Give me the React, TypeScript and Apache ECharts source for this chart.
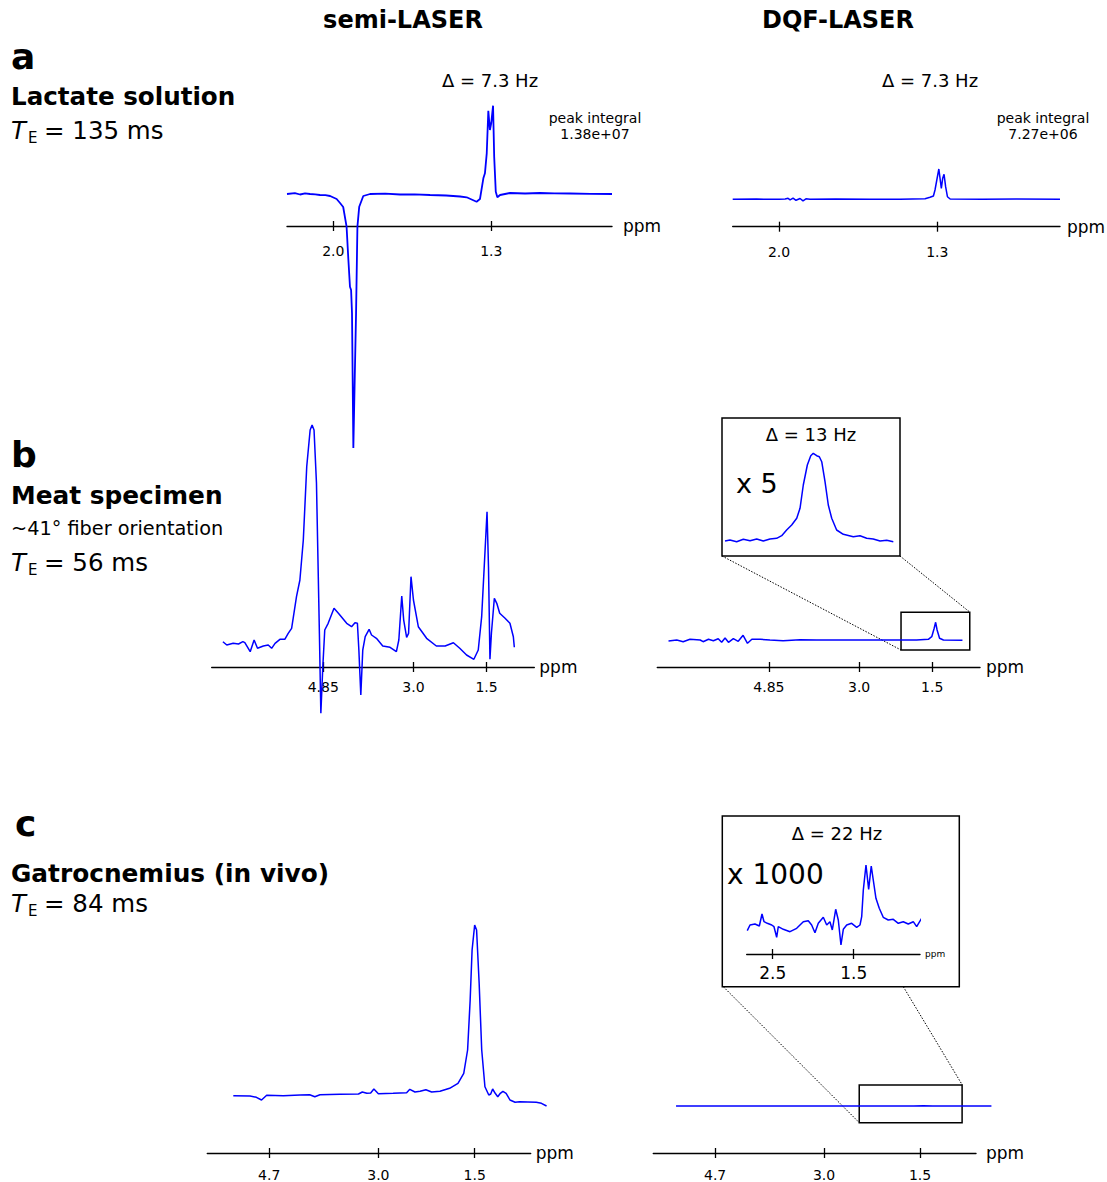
import React, { useEffect, useRef } from 'react';
import * as echarts from 'echarts';

const BLUE = '#0000ff';
const FONT = 'DejaVu Sans';

// ---------- data (ppm, intensity in arbitrary units) ----------
// a: lactate solution, semi-LASER
const aSemi = [
  [2.205, 0], [2.17, 0.8], [2.147, -0.5], [2.125, 0.6], [2.103, 0], [2.08, -0.4], [2.059, -1], [2.035, -1.2],
  [2.014, -2], [1.985, -5], [1.97, -9], [1.956, -13], [1.941, -32.7], [1.933, -66], [1.926, -92.7], [1.921, -96],
  [1.917, -119], [1.911, -254], [1.905, -186], [1.899, -119], [1.893, -32.7], [1.885, -12.7], [1.867, -2], [1.837, 0],
  [1.77, 0.3], [1.704, -0.5], [1.64, -0.3], [1.571, -1], [1.5, -1.5], [1.438, -2.5], [1.409, -3.3], [1.365, -7.7],
  [1.35, -5], [1.335, 15.7], [1.328, 20.7], [1.32, 40.7], [1.313, 83.3], [1.306, 64], [1.3, 71], [1.292, 88.3],
  [1.287, 37.3], [1.28, 2.3], [1.273, -3.3], [1.261, -1], [1.217, 1], [1.15, 0.5], [1.084, 1], [1.02, 0.6],
  [0.951, 0.5], [0.86, 0.2], [0.765, 0],
];
// a: lactate solution, DQF-LASER
const aDqf = [
  [2.205, 0], [2.1, 0.2], [2.0, 0], [1.973, 0.3], [1.96, 1], [1.951, -0.5], [1.938, 1.2], [1.925, -1],
  [1.907, 0.8], [1.894, -1.5], [1.881, 0.5], [1.863, 0], [1.75, 0.2], [1.6, 0], [1.465, 0], [1.354, 0.5],
  [1.332, 2], [1.317, 3.3], [1.31, 9.3], [1.302, 19.3], [1.293, 30.3], [1.282, 11], [1.276, 21], [1.27, 25],
  [1.263, 12.6], [1.255, 2.6], [1.243, 0.3], [1.1, 0], [0.95, 0.2], [0.757, 0],
];
// b: meat specimen, semi-LASER
const bSemi = [
  [6.91, 25.3], [6.83, 22], [6.7, 23.7], [6.59, 23], [6.5, 25.3], [6.46, 24.3], [6.35, 15.3], [6.27, 27],
  [6.2, 18.7], [6.08, 21], [5.98, 22], [5.91, 18.7], [5.84, 23.7], [5.74, 27.7], [5.64, 27.7], [5.57, 33.7],
  [5.5, 38.7], [5.4, 70.3], [5.33, 87], [5.26, 127], [5.19, 200.3], [5.12, 237], [5.08, 242], [5.04, 237],
  [4.99, 183.7], [4.93, 33.7], [4.9, -46.3], [4.86, 0.3], [4.82, 37], [4.75, 43.7], [4.63, 58.7], [4.54, 53.7],
  [4.37, 43.7], [4.27, 40.3], [4.2, 44.3], [4.15, 43.7], [4.12, 17], [4.08, -28], [4.04, 17], [3.99, 30.3],
  [3.91, 37.7], [3.86, 32], [3.76, 28.7], [3.63, 21], [3.48, 19.7], [3.35, 15.3], [3.3, 27], [3.24, 71],
  [3.2, 47], [3.14, 29.7], [3.1, 33.7], [3.05, 90.3], [3.0, 67], [2.9, 40.3], [2.73, 28.7], [2.53, 21],
  [2.35, 21], [2.18, 24.3], [2.05, 18.7], [1.91, 12], [1.76, 7.7], [1.67, 17], [1.6, 50.3], [1.53, 117],
  [1.49, 155.3], [1.46, 100.3], [1.43, 7.7], [1.4, 33.7], [1.34, 68.7], [1.29, 63.7], [1.23, 53.7], [1.12, 48.7],
  [1.02, 43.7], [0.95, 30.3], [0.93, 19.7],
];
// b: meat specimen, DQF-LASER
const bDqf = [
  [6.91, 26], [6.74, 27], [6.61, 25.3], [6.47, 27.7], [6.26, 27], [6.2, 25.3], [6.09, 27.7], [5.99, 26.3],
  [5.89, 28.3], [5.82, 24.7], [5.75, 29], [5.68, 24.7], [5.58, 28.3], [5.48, 25.7], [5.38, 31.7], [5.29, 23.7],
  [5.2, 27.7], [5.03, 27.7], [4.83, 27], [4.56, 26.3], [4.21, 27.3], [3.87, 27], [3.19, 27], [2.5, 27],
  [1.82, 27], [1.58, 27.7], [1.51, 30.3], [1.46, 38.7], [1.43, 44.7], [1.4, 37], [1.35, 28.7], [1.27, 27],
  [0.88, 26.7],
];
// b: DQF-LASER inset (x 5)
const bInset = [
  [2.116, 15], [2.077, 16], [2.024, 14.3], [1.971, 16.7], [1.918, 15.3], [1.865, 17], [1.813, 15], [1.76, 17],
  [1.707, 17.7], [1.667, 20.3], [1.628, 26], [1.588, 31], [1.548, 37.7], [1.522, 47.7], [1.496, 71], [1.464, 91],
  [1.437, 100.3], [1.417, 102.7], [1.39, 100.3], [1.369, 99.3], [1.35, 94.3], [1.324, 74.3], [1.298, 51], [1.271, 37.7],
  [1.232, 26], [1.179, 21.7], [1.1, 19.3], [1.047, 20.3], [0.994, 17.7], [0.942, 17], [0.888, 15], [0.835, 15.7],
  [0.783, 14.3],
];
// c: gastrocnemius in vivo, semi-LASER
const cSemi = [
  [5.26, -0.7], [5.0, -1], [4.9, -2.3], [4.82, -5], [4.74, -0.3], [4.48, -0.7], [4.22, 0], [4.07, 0.3],
  [3.99, -1.7], [3.91, 0.3], [3.6, 0.7], [3.31, 1], [3.25, 3], [3.18, 1.7], [3.12, 2], [3.07, 6],
  [3.0, 1.3], [2.77, 1.7], [2.56, 2.3], [2.51, 5.7], [2.43, 3], [2.35, 3.7], [2.26, 5.3], [2.17, 3],
  [2.04, 3.7], [1.89, 6.7], [1.76, 11.7], [1.67, 21.7], [1.61, 45], [1.57, 95], [1.54, 145], [1.5, 170],
  [1.47, 165], [1.43, 111.7], [1.39, 45], [1.34, 8.3], [1.28, 0], [1.25, 1], [1.22, 6], [1.18, 1.7],
  [1.14, -1.7], [1.1, 1.7], [1.06, 3.7], [1.01, 1.7], [0.95, -5], [0.87, -7.3], [0.8, -6.7], [0.54, -7.3],
  [0.46, -8.3], [0.38, -11],
];
// c: gastrocnemius in vivo, DQF-LASER
const cDqf = [
  [5.31, 0], [4.5, 0], [3.5, 0], [2.5, 0], [1.6, 0], [1.45, 0.3], [1.3, 0], [0.9, 0], [0.386, 0],
];
// c: DQF-LASER inset (x 1000)
const cInset = [
  [2.814, 23.3], [2.78, 29], [2.719, 30], [2.665, 28], [2.632, 40], [2.607, 32.3], [2.567, 30.7], [2.512, 29],
  [2.484, 27.3], [2.451, 16.7], [2.431, 27.3], [2.369, 24.7], [2.286, 22.3], [2.204, 25.7], [2.122, 32.3], [2.061, 33.3],
  [2.019, 29], [1.978, 21.3], [1.937, 30.7], [1.875, 36.7], [1.833, 29], [1.793, 32.3], [1.764, 24], [1.722, 44.7],
  [1.69, 34], [1.657, 9], [1.628, 24.7], [1.586, 29], [1.525, 30.7], [1.463, 26.7], [1.422, 29], [1.401, 37.3],
  [1.381, 64], [1.348, 89], [1.315, 64.7], [1.283, 88], [1.258, 74], [1.225, 55.7], [1.184, 45.7], [1.135, 36.7],
  [1.073, 34], [1.011, 34.7], [0.949, 30.7], [0.888, 32.3], [0.826, 30], [0.764, 32.3], [0.722, 27.3], [0.661, 35.7],
  [0.607, 35.7], [0.549, 34.7],
];

// tick values / labels
const ticksA = [2.0, 1.3];
const labelsA = ['2.0', '1.3'];
const ticksB = [4.85, 3.0, 1.5];
const labelsB = ['4.85', '3.0', '1.5'];
const ticksC = [4.7, 3.0, 1.5];
const labelsC = ['4.7', '3.0', '1.5'];
const ticksCInset = [2.5, 1.5];
const labelsCInset = ['2.5', '1.5'];

// zoom boxes [ppmFrom, intensityFrom, ppmTo, intensityTo]
const boxB = [2.14, 17, 0.73, 54.7];
const boxC = [2.45, 21, 0.844, -16.7];

type Panel = {
  grid: { left: number; top: number; width: number; height: number };
  x: [number, number];
  xDataMin?: number; // lower ppm limit of the drawn trace (may overhang the axis)
  y: [number, number];
  ticks?: number[];
  labels?: string[];
  labelMargin?: number;
  labelSize?: number;
  nameGap?: number;
  nameSize?: number;
  namePad?: number;
  data: number[][];
  lw: number;
  box?: number[];
};

const panels: Panel[] = [
  { grid: { left: 287, top: 100, width: 325, height: 126 }, x: [0.765, 2.205], y: [-32, 94], ticks: ticksA, labels: labelsA, labelMargin: 18, labelSize: 14, nameGap: 11, nameSize: 17, namePad: 4, data: aSemi, lw: 1.8 },
  { grid: { left: 732.7, top: 100, width: 327.3, height: 126.7 }, x: [0.757, 2.205], y: [-27.4, 99.3], ticks: ticksA, labels: labelsA, labelMargin: 18, labelSize: 14, nameGap: 7, nameSize: 17, namePad: 4, data: aDqf, lw: 1.5 },
  { grid: { left: 211.7, top: 420, width: 322.6, height: 247 }, x: [0.52, 7.14], y: [0, 247], ticks: ticksB, labels: labelsB, labelMargin: 13, labelSize: 14, nameGap: 5, nameSize: 17, namePad: 7, data: bSemi, lw: 1.5 },
  { grid: { left: 657.3, top: 420, width: 322.7, height: 247 }, x: [0.52, 7.14], y: [0, 247], ticks: ticksB, labels: labelsB, labelMargin: 13, labelSize: 14, nameGap: 6, nameSize: 17, namePad: 7, data: bDqf, lw: 1.5, box: boxB },
  { grid: { left: 722, top: 418, width: 178, height: 138 }, x: [0.73, 2.14], y: [0, 138], data: bInset, lw: 1.5 },
  { grid: { left: 207.3, top: 900, width: 323.4, height: 257.5 }, x: [0.627, 5.665], xDataMin: 0.36, y: [-62.5, 195], ticks: ticksC, labels: labelsC, labelMargin: 15, labelSize: 14, nameGap: 5, nameSize: 17, namePad: 7, data: cSemi, lw: 1.5 },
  { grid: { left: 653.3, top: 900, width: 322.7, height: 257.7 }, x: [0.627, 5.665], xDataMin: 0.36, y: [-51.7, 206], ticks: ticksC, labels: labelsC, labelMargin: 15, labelSize: 14, nameGap: 10, nameSize: 17, namePad: 7, data: cDqf, lw: 1.5, box: boxC },
  { grid: { left: 746.7, top: 860, width: 173.3, height: 94 }, x: [0.681, 2.821], y: [0, 94], ticks: ticksCInset, labels: labelsCInset, labelMargin: 10, labelSize: 17, nameGap: 5, nameSize: 9, namePad: 4, data: cInset, lw: 1.5 },
];

function txt(text: string, x: number, y: number, size: number, opts: any = {}) {
  return {
    type: 'text',
    x,
    y,
    silent: true,
    z: 10,
    style: {
      text,
      fontFamily: FONT,
      fontSize: size,
      fontWeight: opts.bold ? 'bold' : 'normal',
      fontStyle: opts.italic ? 'italic' : 'normal',
      fill: '#000',
      align: opts.align || 'left',
      verticalAlign: 'middle',
    },
  };
}

function teLabel(value: string, y: number) {
  return [
    txt('T', 11, y, 24.5, { italic: true }),
    txt('E', 28, y + 8, 15),
    txt('= ' + value, 44, y, 24.5),
  ];
}

function dotted(x1: number, y1: number, x2: number, y2: number) {
  return {
    type: 'line',
    silent: true,
    shape: { x1, y1, x2, y2 },
    style: { stroke: '#000', lineWidth: 1, lineDash: [1.5, 1.5] },
  };
}

function buildOption() {
  const n = panels.length;
  const grid: any[] = [];
  const axisX: any[] = [];
  const dataX: any[] = [];
  const overlay: any[] = [];
  const axisY: any[] = [];
  const dataY: any[] = [];
  const series: any[] = [];

  // axis grids
  panels.forEach((p, i) => {
    grid.push({ ...p.grid, containLabel: false, show: false });
    const hasAxis = !!p.ticks;
    const labels = p.labels || [];
    const ticks = p.ticks || [];
    axisX.push({
      type: 'value',
      gridIndex: i,
      min: p.x[0],
      max: p.x[1],
      inverse: true,
      position: 'bottom',
      show: hasAxis,
      name: hasAxis ? 'ppm' : '',
      nameLocation: 'start',
      nameGap: p.nameGap,
      nameTextStyle: {
        fontFamily: FONT,
        fontSize: p.nameSize,
        color: '#000',
        verticalAlign: 'middle',
        padding: [p.namePad || 0, 0, 0, 0],
      },
      axisLine: { show: true, onZero: false, lineStyle: { color: '#000', width: 1.4 } },
      axisTick: { show: true, inside: false, length: 5, customValues: ticks, lineStyle: { color: '#000', width: 1.3 } },
      axisLabel: {
        show: true,
        customValues: ticks,
        margin: p.labelMargin,
        fontFamily: FONT,
        fontSize: p.labelSize,
        color: '#000',
        formatter: (v: number) => {
          const k = ticks.findIndex((t) => Math.abs(t - v) < 1e-6);
          return k >= 0 ? labels[k] : '';
        },
      },
      splitLine: { show: false },
    });
    if (hasAxis) {
      overlay.push({
        type: 'value',
        gridIndex: i,
        min: p.x[0],
        max: p.x[1],
        inverse: true,
        position: 'bottom',
        offset: 0,
        axisLine: { show: false, onZero: false },
        axisTick: { show: true, inside: true, length: 5, customValues: ticks, lineStyle: { color: '#000', width: 1.3 } },
        axisLabel: { show: false },
        splitLine: { show: false },
      });
    }
    axisY.push({ type: 'value', gridIndex: i, min: p.y[0], max: p.y[1], show: false, splitLine: { show: false } });
  });

  // data grids (same scale, optionally wider so that a trace can overhang the axis end)
  panels.forEach((p, i) => {
    const xmin = p.xDataMin !== undefined ? p.xDataMin : p.x[0];
    const width = (p.grid.width * (p.x[1] - xmin)) / (p.x[1] - p.x[0]);
    grid.push({ left: p.grid.left, top: p.grid.top, width, height: p.grid.height, containLabel: false, show: false });
    const gi = n + i;
    dataX.push({ type: 'value', gridIndex: gi, min: xmin, max: p.x[1], inverse: true, show: false, splitLine: { show: false } });
    dataY.push({ type: 'value', gridIndex: gi, min: p.y[0], max: p.y[1], show: false, splitLine: { show: false } });
    const s: any = {
      type: 'line',
      xAxisIndex: gi,
      yAxisIndex: gi,
      data: p.data,
      showSymbol: false,
      symbol: 'none',
      clip: false,
      silent: true,
      lineStyle: { color: BLUE, width: p.lw },
      z: 3,
    };
    if (p.box) {
      s.markArea = {
        silent: true,
        itemStyle: { color: 'rgba(0,0,0,0)', borderColor: '#000', borderWidth: 1.5 },
        label: { show: false },
        data: [[{ coord: [p.box[0], p.box[1]] }, { coord: [p.box[2], p.box[3]] }]],
      };
    }
    series.push(s);
  });

  const graphic: any[] = [
    txt('semi-LASER', 403, 20, 24, { bold: true, align: 'center' }),
    txt('DQF-LASER', 838, 20, 24, { bold: true, align: 'center' }),
    // row a
    txt('a', 11, 56, 36, { bold: true }),
    txt('Lactate solution', 11, 96, 24.6, { bold: true }),
    ...teLabel('135 ms', 130),
    txt('Δ = 7.3 Hz', 490, 80, 18, { align: 'center' }),
    txt('Δ = 7.3 Hz', 930, 80, 18, { align: 'center' }),
    txt('peak integral', 595, 118, 14, { align: 'center' }),
    txt('1.38e+07', 595, 134, 14, { align: 'center' }),
    txt('peak integral', 1043, 118, 14, { align: 'center' }),
    txt('7.27e+06', 1043, 134, 14, { align: 'center' }),
    // row b
    txt('b', 11, 454, 36, { bold: true }),
    txt('Meat specimen', 11, 495, 24.8, { bold: true }),
    txt('~41° fiber orientation', 11, 528, 19.3),
    ...teLabel('56 ms', 562),
    {
      type: 'rect',
      silent: true,
      z: 5,
      shape: { x: 722, y: 418, width: 178, height: 138 },
      style: { fill: 'none', stroke: '#000', lineWidth: 1.5 },
    },
    txt('Δ = 13 Hz', 811, 434, 18, { align: 'center' }),
    txt('x 5', 736, 483, 27),
    dotted(722, 556, 901, 650),
    dotted(900, 556, 970, 612.3),
    // row c
    txt('c', 15, 823, 36, { bold: true }),
    txt('Gatrocnemius (in vivo)', 11, 873, 24.8, { bold: true }),
    ...teLabel('84 ms', 903),
    {
      type: 'rect',
      silent: true,
      z: 5,
      shape: { x: 722.3, y: 816, width: 237, height: 170.7 },
      style: { fill: 'none', stroke: '#000', lineWidth: 1.5 },
    },
    txt('Δ = 22 Hz', 837, 833, 18, { align: 'center' }),
    txt('x 1000', 727, 874, 28),
    dotted(723.3, 986.7, 859.3, 1122.7),
    dotted(903.3, 986.7, 962.3, 1085),
  ];

  return {
    animation: false,
    backgroundColor: '#ffffff',
    grid,
    xAxis: axisX.concat(dataX, overlay),
    yAxis: axisY.concat(dataY),
    series,
    graphic,
  };
}

export default function App() {
  const ref = useRef<HTMLDivElement>(null);
  useEffect(() => {
    if (!ref.current) return;
    const chart = echarts.init(ref.current, undefined, { renderer: 'svg' });
    chart.setOption(buildOption() as any);
    return () => chart.dispose();
  }, []);
  return (
    <div
      ref={ref}
      style={{ position: 'absolute', left: 0, top: 0, width: 1107, height: 1182, background: '#fff' }}
    />
  );
}
